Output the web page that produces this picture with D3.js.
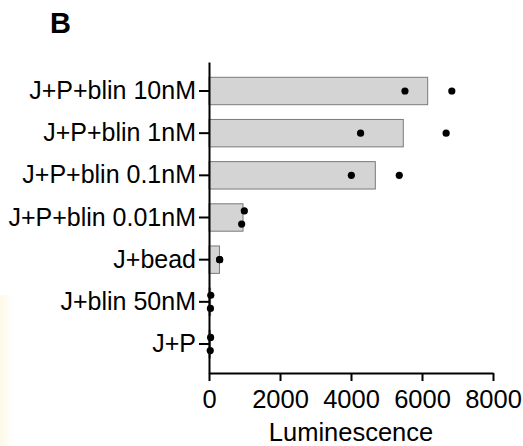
<!DOCTYPE html>
<html>
<head>
<meta charset="utf-8">
<script src="https://cdn.jsdelivr.net/npm/d3@7"></script>
<style>
  body { margin: 0; background: #fff; }
  svg { display: block; font-family: Arial, "Liberation Sans", sans-serif; }
</style>
</head>
<body>
<script>
// categories top to bottom, bar = mean, rep1/rep2 = the two points
const categories = ["J+P+blin 10nM", "J+P+blin 1nM", "J+P+blin 0.1nM", "J+P+blin 0.01nM", "J+bead", "J+blin 50nM", "J+P"];
const barValues = [6160, 5473, 4685, 958, 295, 45, 40];
const rep1 = [5520, 4270, 4010, 995, 300, 50, 45];
const rep2 = [6840, 6680, 5360, 920, 300, 40, 35];
const xTicks = [0, 2000, 4000, 6000, 8000];

const W = 523, H = 446;
const margin = {top: 62, left: 209, right: 30, bottom: 73};
const width = 284, height = H - margin.top - margin.bottom;

const svg = d3.select("body").append("svg")
    .attr("width", W)
    .attr("height", H);

// faint yellow smear at the bottom left of the scan
const defs = svg.append("defs");
const grad = defs.append("linearGradient").attr("id", "smear")
    .attr("x1", 0).attr("x2", 1).attr("y1", 0).attr("y2", 0);
grad.append("stop").attr("offset", "0%").attr("stop-color", "#fcf5d2").attr("stop-opacity", 0.55);
grad.append("stop").attr("offset", "100%").attr("stop-color", "#fcf5d2").attr("stop-opacity", 0);
svg.append("rect").attr("x", 0).attr("y", 295).attr("width", 13).attr("height", 151)
    .attr("fill", "url(#smear)");

svg.append("text")
    .attr("x", 50)
    .attr("y", 33)
    .attr("font-size", "29px")
    .attr("font-weight", "bold")
    .text("B");

const x = d3.scaleLinear().domain([0, 8000]).range([0, width]);
const y = d3.scaleBand().domain(categories).range([0, height])
    .paddingInner(0.35).paddingOuter(0.3625);

const g = svg.append("g")
    .attr("transform", "translate(" + margin.left + "," + margin.top + ")");

// bars
g.selectAll(".bar")
    .data(categories)
    .enter().append("rect")
    .attr("class", "bar")
    .attr("x", 0)
    .attr("y", function(d) { return y(d); })
    .attr("width", function(d, i) { return x(barValues[i]); })
    .attr("height", y.bandwidth())
    .attr("fill", "#d4d4d4")
    .attr("stroke", "#7a7a7a")
    .attr("stroke-width", 1);

// points: spread vertically when two close (but different) values overlap
const r = 3.6;
const pts = [];
categories.forEach(function(c, i) {
    const a = rep1[i], b = rep2[i];
    const dx = Math.abs(x(a) - x(b));
    const off = (dx > 0 && dx < 2 * r + 1) ? 6.6 : 0;
    pts.push({c: c, v: a, off: -off});
    pts.push({c: c, v: b, off: off});
});

g.selectAll(".dot")
    .data(pts)
    .enter().append("circle")
    .attr("class", "dot")
    .attr("cx", function(d) { return x(d.v); })
    .attr("cy", function(d) { return y(d.c) + y.bandwidth() / 2 + d.off; })
    .attr("r", r)
    .attr("fill", "#000");

// axes
const xAxis = g.append("g")
    .attr("transform", "translate(0," + height + ")")
    .call(d3.axisBottom(x).tickValues(xTicks).tickSize(8).tickSizeOuter(0).tickPadding(9)
        .tickFormat(d3.format("d")));

const yAxis = g.append("g")
    .call(d3.axisLeft(y).tickSize(10).tickSizeOuter(0).tickPadding(3));

[xAxis, yAxis].forEach(function(ax) {
    ax.select(".domain").attr("stroke", "#000").attr("stroke-width", 2);
    ax.selectAll(".tick line").attr("stroke", "#000").attr("stroke-width", 2);
    ax.selectAll(".tick text").attr("fill", "#000")
        .attr("font-family", "Arial, 'Liberation Sans', sans-serif");
});
xAxis.selectAll(".tick text").attr("font-size", "25.5px");
yAxis.selectAll(".tick text").attr("font-size", "25px");

svg.append("text")
    .attr("x", margin.left + width / 2)
    .attr("y", 441)
    .attr("text-anchor", "middle")
    .attr("font-size", "25.5px")
    .text("Luminescence");
</script>
</body>
</html>
